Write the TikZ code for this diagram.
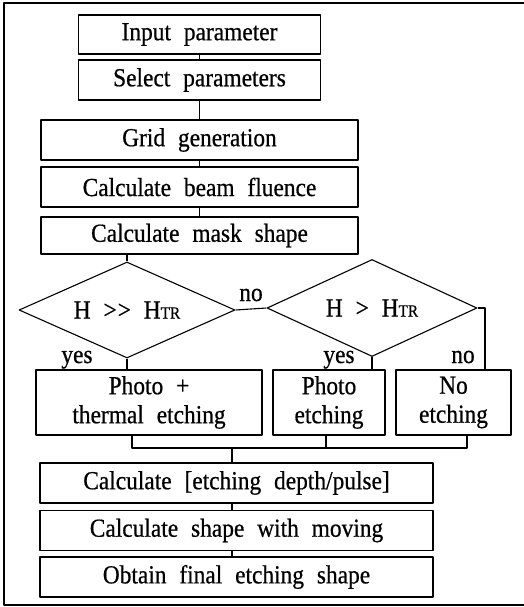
\documentclass[tikz,border=0pt]{standalone}
\usepackage{fontspec}
\setmainfont{Liberation Serif}[WordSpace=2.2,FakeStretch=0.9,FakeBold=0.6]
\usetikzlibrary{shapes.geometric}
\begin{document}
\begin{tikzpicture}[x=1pt,y=1pt,line join=round,font=\fontsize{26}{29}\selectfont,
    box/.style={draw,line width=1.2pt,inner sep=0pt,minimum height=40pt,align=center},
    dec/.style={draw,diamond,line width=1.1pt,inner sep=0pt,aspect=2.2},
    lbl/.style={inner sep=0pt,anchor=base}]
    \def\htr{{\fontsize{17}{17}\selectfont TR}} % Index
    \useasboundingbox (0,0) rectangle (524,-607);
    \draw[line width=2pt] (524,-3)--(4,-3)--(4,-605)--(524,-605);
    \node[box,minimum width=242pt,minimum height=39pt] (inp) at (199.5,-34.5) {Input parameter};
    \node[box,minimum width=242pt] (sel) at (199.5,-80) {Select parameters};
    \node[box,minimum width=317pt] (grid) at (199.5,-140) {Grid generation};
    \node[box,minimum width=317pt] (flu) at (199.5,-187) {Calculate beam fluence};
    \node[box,minimum width=317pt,minimum height=37pt] (mask) at (199.5,-235.5) {Calculate mask shape};
    \node[dec,minimum width=216pt,minimum height=96pt] (d1) at (127,-310) {H >\kern1pt> H\htr};
    \node[dec,minimum width=210pt,minimum height=97pt] (d2) at (372,-308) {H > H\htr};
    \node[box,minimum width=226pt,minimum height=65pt] (pte) at (149,-402.5) {Photo +\\thermal etching};
    \node[box,minimum width=112pt,minimum height=65pt] (pe) at (329,-402.5) {Photo\\etching};
    \node[box,minimum width=115pt,minimum height=65pt] (ne) at (453.5,-402.5) {No\\etching};
    \node[box,minimum width=393pt] (dep) at (236.5,-483) {Calculate [etching depth/pulse]};
    \node[box,minimum width=393pt] (mov) at (236.5,-530.5) {Calculate shape with moving};
    \node[box,minimum width=393pt] (fin) at (236.5,-577) {Obtain final etching shape};
    \coordinate (mj) at (232,-448);
    \begin{scope}[line width=1.1pt]
    \foreach \a/\b in {inp/sel,sel/grid,grid/flu,flu/mask}
    \draw (\a.south) -- (\b.north);
    \draw (d1.north) -- (d1.north |- mask.south);
    \draw (d1.east) -- (d2.west) node[midway,above=8pt,inner sep=0pt,anchor=base] {no};
    \draw (d1.south) -- (d1.south |- pte.north);
    \draw (d2.south) -- (d2.south |- pe.north);
    \draw (d2.east) -| ([xshift=31.5pt]ne.north);
    \foreach \n/\s in {pte/-17,pe/-3,ne/13.5}
    \draw ([xshift=\s pt]\n.south) |- (mj);
    \draw (mj) -- (mj |- dep.north);
    \draw (dep.south -| mj) -- (mov.north -| mj);
    \draw (mov.south -| mj) -- (fin.north -| mj);
    \end{scope}
    \node[lbl] (y1) at (77,-363) {yes};
    \node[lbl] (y2) at (339,-363) {yes};
    \node[lbl] (n2) at (463,-363) {no};
\end{tikzpicture}
\end{document}
